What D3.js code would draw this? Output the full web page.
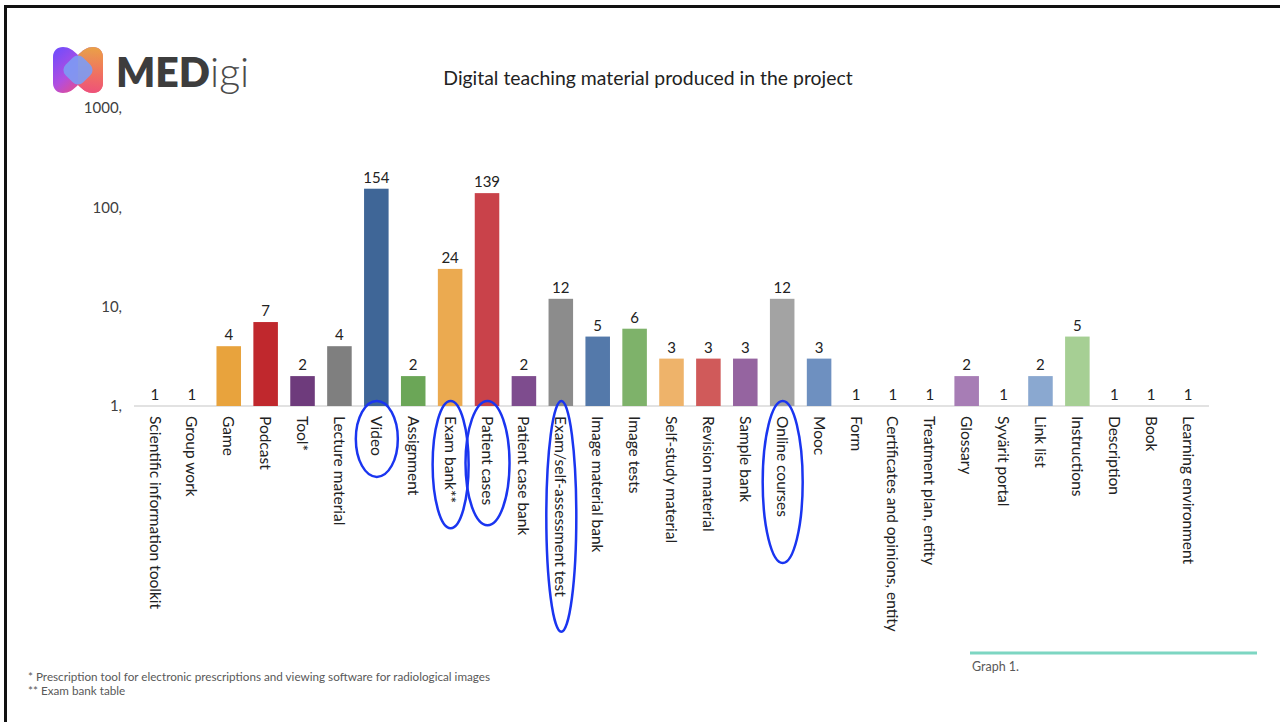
<!DOCTYPE html>
<html>
<head>
<meta charset="utf-8">
<script src="https://cdn.jsdelivr.net/npm/d3@7"></script>
<style>
  html, body { margin: 0; padding: 0; background: #fff; }
  svg { display: block; font-family: Lato, "Open Sans", sans-serif; }
</style>
</head>
<body>
<svg id="chart" width="1280" height="722"></svg>
<script>
const categories = [
  "Scientific information toolkit", "Group work", "Game", "Podcast", "Tool*",
  "Lecture material", "Video", "Assignment", "Exam bank**", "Patient cases",
  "Patient case bank", "Exam/self-assessment test", "Image material bank", "Image tests",
  "Self-study material", "Revision material", "Sample bank", "Online courses", "Mooc",
  "Form", "Certificates and opinions, entity", "Treatment plan, entity", "Glossary",
  "Syvärit portal", "Link list", "Instructions", "Description", "Book", "Learning environment"
];
const values = [1, 1, 4, 7, 2, 4, 154, 2, 24, 139, 2, 12, 5, 6, 3, 3, 3, 12, 3, 1, 1, 1, 2, 1, 2, 5, 1, 1, 1];
const barColors = [
  "#4472c4", "#ed7d31", "#e8a33d", "#c0282d", "#6e3b7c",
  "#7f7f7f", "#3f6697", "#6ba657", "#ebaa50", "#c9424a",
  "#7e4c8e", "#8c8c8c", "#5479aa", "#7eb26a", "#eeb36a",
  "#d05a5a", "#9564a0", "#a3a3a3", "#6e90c0", "#9bbb59",
  "#f79646", "#8064a2", "#a77db5", "#4bacc6", "#8aa8d0",
  "#a6cf94", "#c0504d", "#4f81bd", "#9bbb59"
];
const yTickValues = [1, 10, 100, 1000];
const yTickLabels = ["1,", "10,", "100,", "1000,"];
const highlighted = ["Video", "Exam bank**", "Patient cases", "Exam/self-assessment test", "Online courses"];
const highlightPad = [21, 25, 20, 35, 46];
const highlightRx = [21, 18, 22, 15, 20];

const titleText = "Digital teaching material produced in the project";
const footnotes = ["* Prescription tool for electronic prescriptions and viewing software for radiological images", "** Exam bank table"];
const captionText = "Graph 1.";

const svg = d3.select("#chart");

// frame lines (top and left)
svg.append("path")
  .attr("d", "M5.5,722 V6.5 H1280")
  .attr("fill", "none").attr("stroke", "#111").attr("stroke-width", 3);

// scales
const x = d3.scaleBand().domain(categories).range([136.5, 1206.5]).paddingInner(0.335).paddingOuter(0.1675);
const y = d3.scaleLog().domain([1, 1000]).range([406, 108]);

// axis line
svg.append("line")
  .attr("x1", 134).attr("x2", 1209)
  .attr("y1", y(1)).attr("y2", y(1))
  .attr("stroke", "#d9d9d9").attr("stroke-width", 1.5);

// y tick labels
svg.append("g").selectAll("text").data(yTickValues).join("text")
  .attr("x", 122).attr("y", d => y(d))
  .attr("dy", "0.35em")
  .attr("text-anchor", "end")
  .attr("font-size", 15).attr("fill", "#404040")
  .text((d, i) => yTickLabels[i]);

// bars
svg.append("g").selectAll("rect").data(values).join("rect")
  .attr("x", (d, i) => x(categories[i]))
  .attr("width", x.bandwidth())
  .attr("y", d => y(d))
  .attr("height", d => y(1) - y(d))
  .attr("fill", (d, i) => barColors[i]);

// value labels
svg.append("g").selectAll("text").data(values).join("text")
  .attr("x", (d, i) => x(categories[i]) + x.bandwidth() / 2)
  .attr("y", d => y(d) - 6)
  .attr("text-anchor", "middle")
  .attr("font-size", 15).attr("fill", "#222")
  .text(d => d);

// category labels (rotated)
const catG = svg.append("g");
const catLabels = catG.selectAll("text").data(categories).join("text")
  .attr("transform", d => `translate(${x(d) + x.bandwidth() / 2},${y(1) + 10}) rotate(90)`)
  .attr("dy", "0.35em")
  .attr("text-anchor", "start")
  .attr("font-size", 15.5).attr("fill", "#222")
  .text(d => d);

// highlight ellipses
const lblMap = new Map();
catLabels.each(function (d) { lblMap.set(d, this.getComputedTextLength()); });
highlighted.forEach((c, i) => {
  const top = y(1) - 5;
  const bottom = y(1) + 10 + lblMap.get(c) + highlightPad[i];
  svg.append("ellipse")
    .attr("cx", x(c) + x.bandwidth() / 2 + 0.5)
    .attr("cy", (top + bottom) / 2)
    .attr("rx", highlightRx[i])
    .attr("ry", (bottom - top) / 2)
    .attr("fill", "none").attr("stroke", "#1a35f0").attr("stroke-width", 2.5);
});

// title
svg.append("text")
  .attr("x", 648).attr("y", 85)
  .attr("text-anchor", "middle")
  .attr("font-size", 19.4).attr("fill", "#222")
  .text(titleText);

// logo
const defs = svg.append("defs");
const grad = defs.append("linearGradient").attr("id", "lg").attr("x1", "0").attr("y1", "0").attr("x2", "1").attr("y2", "1");
grad.append("stop").attr("offset", "0").attr("stop-color", "#6a4cff");
grad.append("stop").attr("offset", "0.45").attr("stop-color", "#b14ee0");
grad.append("stop").attr("offset", "0.75").attr("stop-color", "#ea4c86");
grad.append("stop").attr("offset", "1").attr("stop-color", "#f06a5a");
const grad2 = defs.append("linearGradient").attr("id", "lg2").attr("x1", "0").attr("y1", "0").attr("x2", "0").attr("y2", "1");
grad2.append("stop").attr("offset", "0").attr("stop-color", "#f5b02a");
grad2.append("stop").attr("offset", "1").attr("stop-color", "#ee4f7c");
const logo = svg.append("g").attr("transform", "translate(53,47)");
logo.append("path")
  .attr("d", "M10,0 C16,0 20,3 25,8 C30,3 34,0 40,0 C46,0 50,4 50,10 L50,36 C50,42 46,46 40,46 C34,46 30,43 25,38 C20,43 16,46 10,46 C4,46 0,42 0,36 L0,10 C0,4 4,0 10,0 Z")
  .attr("fill", "url(#lg)");
logo.append("path")
  .attr("d", "M25,8 C30,3 34,0 40,0 C46,0 50,4 50,10 L50,36 C50,42 46,46 40,46 C34,46 30,43 25,38 Z")
  .attr("fill", "url(#lg2)").attr("opacity", 0.85);
logo.append("rect")
  .attr("x", -10).attr("y", -10).attr("width", 20).attr("height", 20).attr("rx", 6)
  .attr("transform", "translate(25,23) rotate(45) scale(1.25)")
  .attr("fill", "#7c9cf4").attr("opacity", 0.9);
const logoText = svg.append("text").attr("x", 116).attr("y", 87).attr("font-size", 41);
logoText.append("tspan").attr("font-weight", 800).attr("fill", "#3d3d3d").text("MED");
logoText.append("tspan").attr("font-weight", 300).attr("fill", "#4a4a4a").text("igi");

// footnotes
svg.append("g").selectAll("text").data(footnotes).join("text")
  .attr("x", 28).attr("y", (d, i) => 681 + i * 13.5)
  .attr("font-size", 11.7).attr("fill", "#595959")
  .text(d => d);

// caption with teal line
svg.append("line")
  .attr("x1", 970).attr("x2", 1257).attr("y1", 653).attr("y2", 653)
  .attr("stroke", "#7dd6c2").attr("stroke-width", 3);
svg.append("text")
  .attr("x", 972).attr("y", 671)
  .attr("font-size", 12.5).attr("fill", "#595959")
  .text(captionText);
</script>
</body>
</html>
